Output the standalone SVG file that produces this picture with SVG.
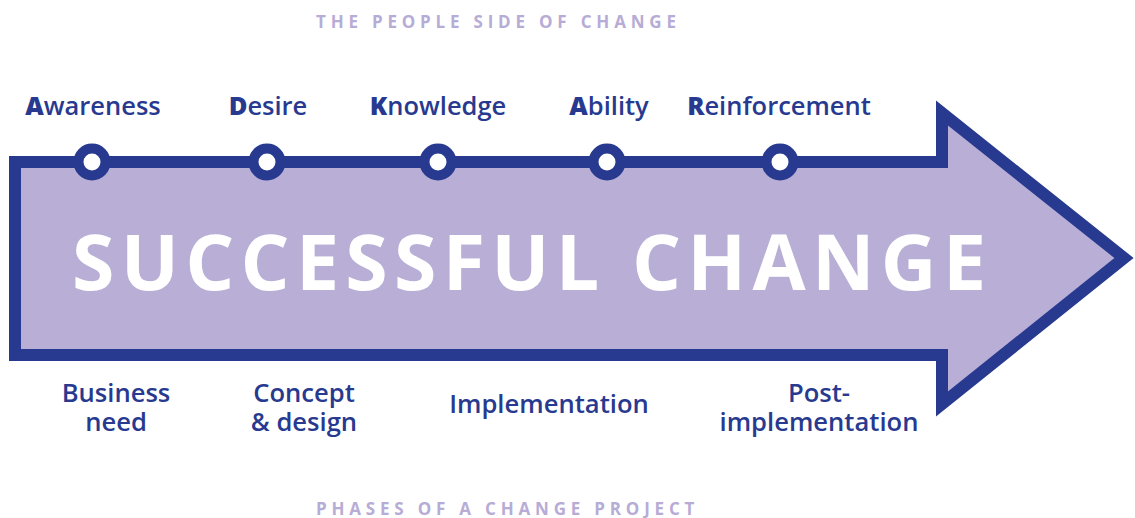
<svg xmlns="http://www.w3.org/2000/svg" width="1135" height="518" viewBox="0 0 1135 518">
<style>
.lbl{font-family:"Open Sans","Noto Sans",sans-serif;font-size:25.5px;fill:#283a8f;text-anchor:middle;font-weight:600}
.lbl tspan.b{font-weight:800}
.ph{font-family:"Open Sans","Noto Sans",sans-serif;font-size:25.6px;fill:#283a8f;text-anchor:middle;font-weight:550}
.hd{font-family:"Open Sans","Noto Sans",sans-serif;font-size:17px;fill:#b7acd5;font-weight:700;letter-spacing:4.8px}
.title{font-family:"Open Sans","Noto Sans",sans-serif;font-size:77px;fill:#ffffff;font-weight:700;letter-spacing:6.3px}
.dot{fill:#ffffff;stroke:#283a8f;stroke-width:10}
</style>
<rect width="1135" height="518" fill="#ffffff"/>
<text class="hd" x="316" y="28">THE PEOPLE SIDE OF CHANGE</text>
<g id="arrow">
<polygon points="15,162 942,162 942,113 1124,258 942,404 942,355 15,355" fill="#b8aed6" stroke="#283a8f" stroke-width="12" stroke-linejoin="miter" stroke-miterlimit="10"/>
<text class="title" x="72" y="290">SUCCESSFUL CHANGE</text>
</g>
<g id="connectors"></g>
<g id="awareness"><circle class="dot" cx="92" cy="162" r="13.5"/><text class="lbl" x="93" y="115"><tspan class="b">A</tspan>wareness</text></g>
<g id="desire"><circle class="dot" cx="267" cy="162" r="13.5"/><text class="lbl" x="268" y="115"><tspan class="b">D</tspan>esire</text></g>
<g id="knowledge"><circle class="dot" cx="438" cy="162" r="13.5"/><text class="lbl" x="438" y="115"><tspan class="b">K</tspan>nowledge</text></g>
<g id="ability"><circle class="dot" cx="607" cy="162" r="13.5"/><text class="lbl" x="609" y="115"><tspan class="b">A</tspan>bility</text></g>
<g id="reinforcement"><circle class="dot" cx="780" cy="162" r="13.5"/><text class="lbl" x="779" y="115"><tspan class="b">R</tspan>einforcement</text></g>
<g id="business-need"><text class="ph" x="116" y="402">Business<tspan x="116" dy="29">need</tspan></text></g>
<g id="concept-design"><text class="ph" x="304" y="402">Concept<tspan x="304" dy="29">&amp; design</tspan></text></g>
<g id="implementation"><text class="ph" x="549" y="413">Implementation</text></g>
<g id="post-implementation"><text class="ph" x="819" y="402">Post-<tspan x="819" dy="29">implementation</tspan></text></g>
<text class="hd" x="316" y="515">PHASES OF A CHANGE PROJECT</text>
</svg>
